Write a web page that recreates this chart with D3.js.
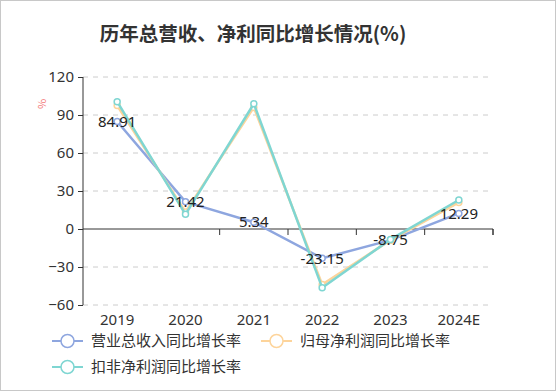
<!DOCTYPE html>
<html><head><meta charset="utf-8">
<script src="https://cdn.jsdelivr.net/npm/d3@7"></script>
<style>
html,body{margin:0;padding:0;background:#fff;}
svg{display:block;font-family:"Noto Sans CJK SC","Noto Sans",sans-serif;}
</style></head>
<body><svg id="c" width="556" height="391"></svg>
<script>
const categories = ["2019","2020","2021","2022","2023","2024E"];
const revenueGrowth = [84.91, 21.42, 5.34, -23.15, -8.75, 12.29];
const netProfitGrowth = [97.5, 13.5, 96.0, -43.8, -8.8, 21.0];
const deductedProfitGrowth = [100.5, 11.6, 98.9, -46.3, -8.2, 22.9];
const yTicks = [-60, -30, 0, 30, 60, 90, 120];
const seriesNames = ["营业总收入同比增长率","归母净利润同比增长率","扣非净利润同比增长率"];
const colors = ["#8ea6df","#fdd49b","#7fd6d2"];

const svg = d3.select("#c");
svg.append("rect").attr("x",0.5).attr("y",0.5).attr("width",555).attr("height",390)
  .attr("fill","#fff").attr("stroke","#c8c8c8");

svg.append("text").attr("x",253).attr("y",41).attr("text-anchor","middle")
  .attr("font-size",19.5).attr("font-weight","bold").attr("fill","#333")
  .text("历年总营收、净利同比增长情况(%)");

const x = d3.scaleBand().domain(categories).range([83,493]);
const y = d3.scaleLinear().domain([-60,120]).range([305,77]);

// grid
svg.append("g").selectAll("line").data(yTicks.filter(d=>d!==0)).join("line")
  .attr("x1",83).attr("x2",493).attr("y1",d=>y(d)).attr("y2",d=>y(d))
  .attr("stroke","#ccc").attr("stroke-dasharray","5,5");

// y axis
const ya = svg.append("g").attr("transform","translate(83,0)")
  .call(d3.axisLeft(y).tickValues(yTicks).tickSize(5).tickPadding(4));
ya.select(".domain").attr("stroke","#333").attr("d","M0,77V305");
ya.selectAll(".tick line").attr("stroke","#333");
ya.selectAll("text").attr("font-size",15).attr("fill","#333").attr("font-family","Noto Sans, sans-serif");

// x axis at zero
const xa = svg.append("g").attr("transform",`translate(0,${y(0)})`)
  .call(d3.axisBottom(x).tickSize(6).tickFormat(""));
xa.select(".domain").attr("stroke","#333").attr("d","M83,0H493V6");
xa.selectAll(".tick line").attr("stroke","#333").attr("transform",d=>`translate(${x.bandwidth()/2},0)`);
xa.selectAll(".tick line").filter((d,i)=>i===0).remove();
svg.append("g").selectAll("text").data(categories).join("text")
  .attr("x",d=>x(d)+x.bandwidth()/2).attr("y",325).attr("text-anchor","middle")
  .attr("font-size",15).attr("fill","#333").attr("font-family","Noto Sans, sans-serif").text(d=>d);

// % label
svg.append("text").attr("transform","translate(46,104) rotate(-90)").attr("text-anchor","middle")
  .attr("font-size",11).attr("fill","#f47a7a").text("%");

const series = [revenueGrowth, netProfitGrowth, deductedProfitGrowth];
const line = d3.line().x((d,i)=>x(categories[i])+x.bandwidth()/2).y(d=>y(d));
series.forEach((s,k)=>{
  svg.append("path").datum(s).attr("d",line).attr("fill","none")
    .attr("stroke",colors[k]).attr("stroke-width",2.5).attr("stroke-linejoin","round");
  svg.append("g").selectAll("circle").data(s).join("circle")
    .attr("cx",(d,i)=>x(categories[i])+x.bandwidth()/2).attr("cy",d=>y(d))
    .attr("r",3).attr("fill","#fff").attr("stroke",colors[k]).attr("stroke-width",1.5);
});

svg.append("g").selectAll("text").data(revenueGrowth).join("text")
  .attr("x",(d,i)=>x(categories[i])+x.bandwidth()/2).attr("y",d=>y(d))
  .attr("dy","0.35em").attr("text-anchor","middle").attr("font-size",15)
  .attr("fill","#222").attr("font-family","Noto Sans, sans-serif").text(d=>d.toFixed(2));

// legend
const legPos = [[52,341],[261,341],[52,367]];
seriesNames.forEach((n,k)=>{
  const [lx,ly] = legPos[k];
  const g = svg.append("g").attr("transform",`translate(${lx},${ly})`);
  g.append("line").attr("x1",0).attr("x2",31).attr("y1",0).attr("y2",0).attr("stroke",colors[k]).attr("stroke-width",2);
  g.append("circle").attr("cx",15.5).attr("cy",0).attr("r",6.5).attr("fill","#fff").attr("stroke",colors[k]).attr("stroke-width",1.5);
  g.append("text").attr("x",39).attr("y",0).attr("dy","0.35em").attr("font-size",15).attr("fill","#333").text(n);
});
</script></body></html>
